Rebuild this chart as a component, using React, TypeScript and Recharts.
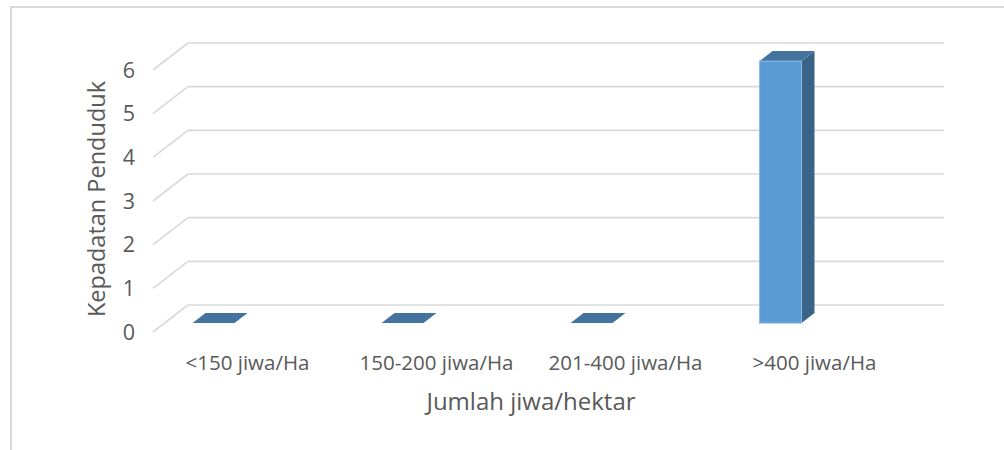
import { BarChart, Bar, XAxis, YAxis, CartesianGrid } from 'recharts';

const categories = ['<150 jiwa/Ha', '150-200 jiwa/Ha', '201-400 jiwa/Ha', '>400 jiwa/Ha'];
const values = [0, 0, 0, 6];
const yTicks = [0, 1, 2, 3, 4, 5, 6];

const data = categories.map((name, i) => ({ name, value: values[i] }));

const FONT = '"Open Sans", "Noto Sans", sans-serif';
const TEXT = '#595959';
const GRID = '#d9d9d9';

// depth of the 3d box (back wall offset)
const DEPTH_X = 35;
const DEPTH_Y = -27;

function GridLine3D(props: any) {
  const { x1, x2, y1 } = props;
  return (
    <g>
      <line x1={x1} y1={y1} x2={x1 + DEPTH_X} y2={y1 + DEPTH_Y} stroke={GRID} strokeWidth={1.6} />
      <line x1={x1 + DEPTH_X} y1={y1 + DEPTH_Y} x2={x2 + DEPTH_X} y2={y1 + DEPTH_Y} stroke={GRID} strokeWidth={1.6} />
    </g>
  );
}

function Bar3D(props: any) {
  const { x, y, width, height } = props;
  if (x == null || y == null) return null;
  const f1 = 0.33;
  const f2 = 0.7;
  const fl = x - 46 + f1 * DEPTH_X;
  const fr = fl + width;
  const bottom = y + height + f1 * DEPTH_Y;
  const top = y + f1 * DEPTH_Y;
  const dx = (f2 - f1) * DEPTH_X;
  const dy = (f2 - f1) * DEPTH_Y;
  if (height <= 0.5) {
    return (
      <polygon
        points={`${fl},${bottom} ${fr},${bottom} ${fr + dx},${bottom + dy} ${fl + dx},${bottom + dy}`}
        fill="#44739f"
      />
    );
  }
  return (
    <g>
      <polygon
        points={`${fr},${top} ${fr + dx},${top + dy} ${fr + dx},${bottom + dy} ${fr},${bottom}`}
        fill="#3a6388"
      />
      <polygon
        points={`${fl},${top} ${fr},${top} ${fr + dx},${top + dy} ${fl + dx},${top + dy}`}
        fill="#44739f"
      />
      <rect x={fl} y={top} width={width} height={bottom - top} fill="#5b9bd5" stroke="#8bb8e3" strokeWidth={1} />
    </g>
  );
}

export default function App() {
  return (
    <div style={{ position: 'absolute', left: 0, top: 0, width: 1004, height: 450, background: '#fff' }}>
      <div
        style={{
          position: 'absolute',
          left: 10,
          top: 6,
          width: 1000,
          height: 450,
          borderTop: '2px solid #d9d9d9',
          borderLeft: '2px solid #d9d9d9',
          boxSizing: 'border-box',
        }}
      />
      <div style={{ position: 'absolute', left: 0, top: 0 }}>
        <BarChart
          width={1004}
          height={450}
          data={data}
          margin={{ top: 70, right: 95, bottom: 78, left: 93 }}
        >
          <CartesianGrid vertical={false} horizontal={(p: any) => <GridLine3D key={p.key} {...p} />} />
          <XAxis
            dataKey="name"
            height={40}
            axisLine={false}
            tickLine={false}
            tickSize={0}
            tickMargin={23}
            tick={{ fill: TEXT, fontSize: 20.5, fontFamily: FONT }}
            interval={0}
            label={{
              content: ({ viewBox }: any) => (
                <text
                  x={viewBox.x + viewBox.width / 2}
                  y={viewBox.y + 78}
                  textAnchor="middle"
                  fill={TEXT}
                  fontSize={24}
                  fontFamily={FONT}
                >
                  Jumlah jiwa/hektar
                </text>
              ),
            }}
          />
          <YAxis
            width={60}
            domain={[0, 6]}
            ticks={yTicks}
            axisLine={false}
            tickLine={false}
            tickSize={0}
            tickMargin={18}
            tick={{ fill: TEXT, fontSize: 21.5, fontFamily: FONT }}
            label={{
              content: ({ viewBox }: any) => {
                const cx = viewBox.x + 12;
                const cy = viewBox.y + viewBox.height / 2 - 2;
                return (
                  <text
                    x={cx}
                    y={cy}
                    transform={`rotate(-90, ${cx}, ${cy})`}
                    textAnchor="middle"
                    fill={TEXT}
                    fontSize={23.5}
                    fontFamily={FONT}
                  >
                    Kepadatan Penduduk
                  </text>
                );
              },
            }}
          />
          <Bar dataKey="value" barSize={42} isAnimationActive={false} shape={(p: any) => <Bar3D {...p} />} />
        </BarChart>
      </div>
    </div>
  );
}
